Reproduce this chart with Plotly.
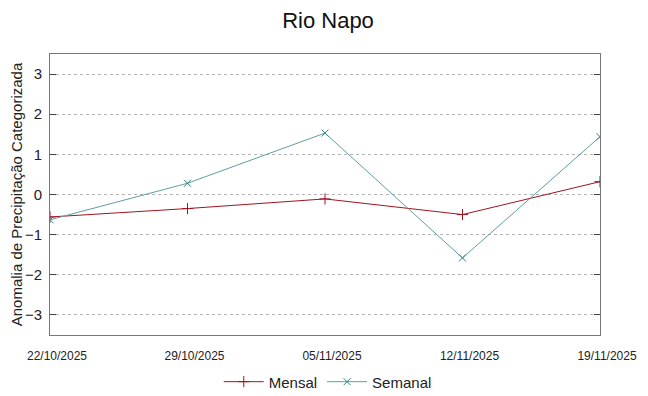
import plotly.graph_objects as go

dates = ["2025-10-22", "2025-10-29", "2025-11-05", "2025-11-12", "2025-11-19"]
tick_labels = ["22/10/2025", "29/10/2025", "05/11/2025", "12/11/2025", "19/11/2025"]
mensal = [-0.56, -0.35, -0.11, -0.50, 0.32]
semanal = [-0.63, 0.28, 1.53, -1.58, 1.44]
y_ticks = [-3, -2, -1, 0, 1, 2, 3]

fig = go.Figure()
fig.add_trace(go.Scatter(x=dates, y=mensal, name="Mensal", mode="lines+markers",
                         line=dict(color="#a0141e", width=1),
                         marker=dict(symbol="cross-thin", size=8, line=dict(color="#a0141e", width=1))))
fig.add_trace(go.Scatter(x=dates, y=semanal, name="Semanal", mode="lines+markers",
                         line=dict(color="#5f9ea0", width=1),
                         marker=dict(symbol="x-thin", size=7, line=dict(color="#2f7f80", width=1))))

# page body has an 8px margin, so the figure is drawn at (8, 8)
fig.update_layout(
    width=640, height=388,
    paper_bgcolor="white", plot_bgcolor="white",
    margin=dict(l=42, r=48, t=46, b=61, autoexpand=False),
    font=dict(family="Liberation Sans, Arial, sans-serif", color="#222"),
    title=dict(text="Rio Napo", x=0.5, xanchor="center", y=0.969, yanchor="middle",
               font=dict(size=22, color="#111")),
    showlegend=True,
    legend=dict(orientation="h", x=0.505, xanchor="center", y=-0.167, yanchor="middle",
                font=dict(size=15, color="#222"), itemwidth=40, bgcolor="rgba(0,0,0,0)"),
)
fig.update_xaxes(type="date", range=[dates[0], dates[-1]], tickvals=dates, ticktext=tick_labels,
                 showgrid=False, showline=True, linecolor="#777", linewidth=1, mirror=True,
                 ticks="", ticklabelstandoff=10, ticklabelshift=7, tickfont=dict(size=12, color="#222"),
                 zeroline=False, automargin=False)
fig.update_yaxes(range=[-3.5, 3.5], tickvals=y_ticks, showgrid=True, gridcolor="#b4b4b4",
                 griddash="dot", gridwidth=1, showline=True, linecolor="#777", linewidth=1,
                 mirror="allticks", ticks="inside", ticklen=6, tickcolor="#444",
                 ticklabelstandoff=4,
                 tickfont=dict(size=15, color="#222"), zeroline=False, automargin=False,
                 title=dict(text="Anomalia de Precipitação Categorizada", font=dict(size=15, color="#222"),
                            standoff=6))

fig.write_html("out.html")
